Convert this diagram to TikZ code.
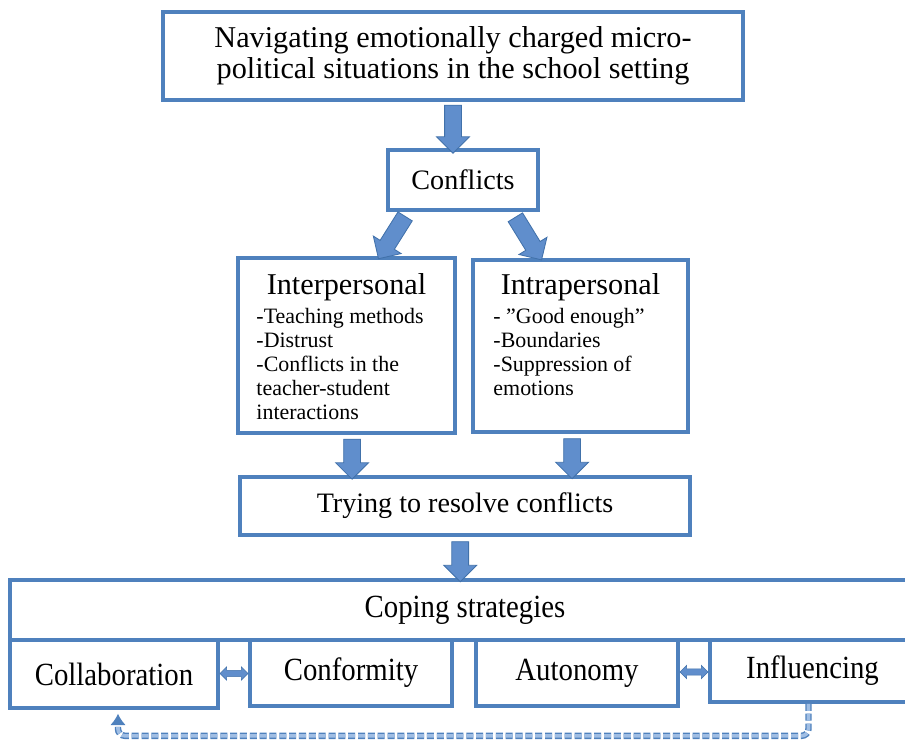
\documentclass[tikz,border=0pt]{standalone}
\usepackage{fontspec}
\setmainfont{Liberation Serif}
\usetikzlibrary{shapes.arrows,arrows.meta}
\definecolor{boxblue}{RGB}{79,129,189}
\definecolor{arrowfill}{RGB}{96,142,204}
\definecolor{arrowedge}{RGB}{65,113,170}
\definecolor{dashfill}{RGB}{160,190,228}
\newcommand{\headtext}{\fontsize{21.5}{22}\selectfont}
\newcommand{\maintext}{\fontsize{20}{22}\selectfont}
\newcommand{\itemtext}{\fontsize{15.6}{17}\selectfont}
\newcommand{\striptext}{\fontsize{23}{26}\selectfont\addfontfeature{FakeStretch=0.89}}

\begin{document}
\begin{tikzpicture}[
        box/.style={draw=boxblue, line width=2.6pt, fill=white, inner sep=0pt},
        blockarrow/.style={single arrow, draw=arrowedge, fill=arrowfill, line width=0.6pt,
            inner xsep=0pt, inner ysep=0.2cm, single arrow head extend=0.2cm,
            minimum height=#1, sloped, allow upside down},
        pairarrow/.style={double arrow, draw=arrowedge, fill=arrowfill, line width=0.4pt,
            inner xsep=0pt, inner ysep=0.07cm, double arrow head extend=0.09cm,
            minimum height=0.7cm},
        loopback/.style={draw=boxblue, double=dashfill, double distance=2.6pt, line width=1pt,
            dash pattern=on 5pt off 2pt, rounded corners=5pt,
            -{Latex[length=8pt,width=11pt]}}
    ]
    \useasboundingbox (0,0) rectangle (22.625,-18.525);

    % boxes
    \node[box, minimum width=14.5cm, minimum height=2.2cm, align=center, font=\headtext]
        (navig) at (11.325,-1.4) {Navigating emotionally charged micro-\\political situations in the school setting};
    \node[box, minimum width=3.75cm, minimum height=1.5cm, font=\maintext]
        (confl) at (11.575,-4.5) {Conflicts};
    \node[box, minimum width=5.425cm, minimum height=4.375cm] (inter) at (8.6625,-8.6375) {};
    \node[box, minimum width=5.375cm, minimum height=4.3cm] (intra) at (14.5125,-8.65) {};
    \node[box, minimum width=11.25cm, minimum height=1.45cm, font=\maintext]
        (resolve) at (11.625,-12.65) {Trying to resolve conflicts};

    \node[font=\headtext] (intertitle) at ([yshift=-0.78cm]inter.north) {Interpersonal};
    \node[font=\itemtext, anchor=north west, inner sep=0pt, align=left]
        (interlist) at ([xshift=0.5cm,yshift=-1.3cm]inter.north west)
        {-Teaching methods\\-Distrust\\-Conflicts in the\\teacher-student\\interactions};
    \node[font=\headtext] (intratitle) at ([yshift=-0.73cm]intra.north) {Intrapersonal};
    \node[font=\itemtext, anchor=north west, inner sep=0pt, align=left]
        (intralist) at ([xshift=0.55cm,yshift=-1.25cm]intra.north west)
        {- ”Good enough”\\-Boundaries\\-Suppression of\\emotions};

    % coping strategies strip
    \node[box, minimum width=22.625cm, minimum height=1.5cm, font=\striptext]
        (coping) at (11.5625,-15.25) {};
    \node[font=\striptext] (copingtext) at (11.625,-15.25) {Coping strategies};
    \node[box, minimum width=5.2cm, minimum height=1.7cm, font=\striptext]
        (collab) at (2.85,-16.85) {Collaboration};
    \node[box, minimum width=5.05cm, minimum height=1.65cm, font=\striptext]
        (conform) at (8.775,-16.825) {Conformity};
    \node[box, minimum width=5.05cm, minimum height=1.65cm, font=\striptext]
        (autonomy) at (14.425,-16.825) {Autonomy};
    \node[box, minimum width=5.125cm, minimum height=1.55cm, font=\striptext]
        (influ) at (20.3125,-16.775) {Influencing};

    % block arrows
    \path (navig.south) -- (navig.south |- confl.north) node[midway, blockarrow=1.2cm] {};
    \path ([xshift=-1.375cm]confl.south) -- ([xshift=0.84cm]inter.north) node[midway, blockarrow=1.25cm] {};
    \path ([xshift=1.225cm]confl.south) -- ([xshift=-1.0cm]intra.north) node[midway, blockarrow=1.25cm] {};
    \path ([xshift=0.14cm]inter.south) -- ([xshift=0.14cm]inter.south |- resolve.north) node[midway, blockarrow=1.0cm] {};
    \path ([xshift=-0.21cm]intra.south) -- ([xshift=-0.21cm]intra.south |- resolve.north) node[midway, blockarrow=1.0cm] {};
    \path ([xshift=-0.12cm]resolve.south) -- ([xshift=-0.12cm]resolve.south |- coping.north) node[midway, blockarrow=1.0cm] {};

    \path (collab.east) -- (conform.west) node[midway, pairarrow] {};
    \path (autonomy.east) -- (influ.west) node[midway, pairarrow] {};

    \draw[loopback] ([xshift=-0.1cm]influ.south) -- ++(0,-0.8) -| ([xshift=0.1cm,yshift=-0.1cm]collab.south);
\end{tikzpicture}
\end{document}
